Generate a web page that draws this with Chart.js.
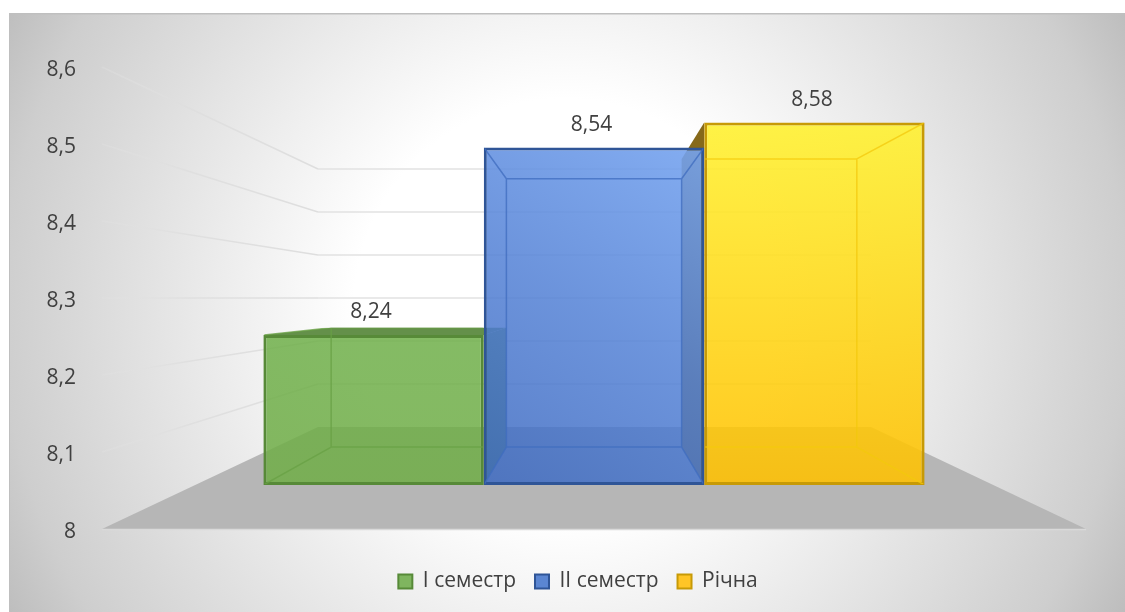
<!DOCTYPE html>
<html><head><meta charset="utf-8">
<style>html,body{margin:0;padding:0;background:#fff}canvas{display:block}</style>
<script src="https://cdn.jsdelivr.net/npm/chart.js@4"></script></head>
<body><div style="width:1125px;height:612px"><canvas id="c" width="1125" height="612"></canvas></div>
<script>
const categories = ['Середній бал'];
const seriesNames = ['I семестр', 'II семестр', 'Річна'];
const semester1 = [8.24];
const semester2 = [8.54];
const yearly = [8.58];
const tickValues = [8, 8.1, 8.2, 8.3, 8.4, 8.5, 8.6];
const borderColors = ['#578a38', '#2f5597', '#c79a06'];
const edgeColors = ['#68a044', '#3f6cbf', '#f3c80c'];
const sideColors = ['#64904a', '#3f5f9a', '#86691a'];
const stops = [
  [[0,'rgba(112,173,71,.86)'],[1,'rgba(112,176,75,.86)']],
  [[0,'rgba(62,106,192,.86)'],[.5,'rgba(84,130,214,.86)'],[1,'rgba(118,164,240,.9)']],
  [[0,'rgba(255,241,50,.9)'],[1,'rgba(255,192,0,.88)']]
];
const TXT = '#404040', FONT = '"Open Sans"';
const fmt = v => String(+(+v).toFixed(2)).replace('.', ',');
const RATIO = 0.795, VPY = 300;

function fill(ctx, pts, color) {
  ctx.beginPath(); pts.forEach((p,i)=> i?ctx.lineTo(p[0],p[1]):ctx.moveTo(p[0],p[1])); ctx.closePath();
  ctx.fillStyle = color; ctx.fill();
}
function box(chart, i) {
  const el = chart.getDatasetMeta(i).data[0];
  const vx = (chart.chartArea.left + chart.chartArea.right) / 2;
  const l = el.x - el.width/2, r = el.x + el.width/2, t = el.y, b = el.base;
  const bx = x => vx + (x - vx) * RATIO, by = y => VPY + (y - VPY) * RATIO;
  return {l, r, t, b, bl: bx(l), br: bx(r), bt: by(t), bb: by(b)};
}
const scene = {
  id: 'scene',
  beforeDraw(chart) {
    const c = chart.ctx, W = chart.width, H = chart.height;
    c.save();
    const g = c.createRadialGradient(565, 310, 0, 565, 310, 640);
    g.addColorStop(0, '#ffffff'); g.addColorStop(.33, '#ffffff'); g.addColorStop(.5, '#f0f0f0');
    g.addColorStop(.88, '#cecece'); g.addColorStop(1, '#bcbcbc');
    c.fillStyle = g; c.fillRect(9, 13, W-9, H-13);
    c.fillStyle = '#bfbfbf'; c.fillRect(9, 13, W-9, 1.5); c.fillRect(9, 13, 1, H-13);
    c.restore();
  },
  afterLayout(chart) {
    const l = chart.legend; l.top += 23; l.bottom += 23; l.left += 35; l.right += 35;
  },
  beforeDatasetsDraw(chart) {
    const c = chart.ctx, a = chart.chartArea, Y = chart.scales.y, B = chart.scales.yBack;
    const L = a.left, R = a.right, bL = 318, bR = 871;
    c.save();
    const yF = Y.getPixelForValue(8), yB = B.getPixelForValue(8);
    fill(c, [[L,yF],[R,yF],[bR,yB],[bL,yB]], '#b6b6b6');
    c.strokeStyle = '#d9d9d9'; c.lineWidth = 1.5;
    c.beginPath(); c.moveTo(L,yF+.5); c.lineTo(R,yF+.5); c.stroke();
    tickValues.slice(1).forEach(v => {
      const y0 = Y.getPixelForValue(v), y1 = B.getPixelForValue(v);
      const g = c.createLinearGradient(L,0,bL,0);
      g.addColorStop(0,'rgba(226,226,226,.3)'); g.addColorStop(.4,'rgba(222,222,222,.85)'); g.addColorStop(1,'#dedede');
      c.strokeStyle = g; c.lineWidth = 1.5;
      c.beginPath(); c.moveTo(L,y0); c.lineTo(bL,y1); c.stroke();
      c.strokeStyle = '#e2e2e2';
      c.beginPath(); c.moveTo(bL,y1); c.lineTo(bR,y1); c.stroke();
    });
    [0,2,1].forEach(i => {
      const k = box(chart,i);
      if (k.bt < k.t) fill(c, [[k.l,k.t],[k.bl,k.bt],[k.br,k.bt],[k.r,k.t]], sideColors[i]);
      if (k.br > k.r) fill(c, [[k.r,k.t],[k.br,k.bt],[k.br,k.bb],[k.r,k.b]], sideColors[i]);
      if (k.bl < k.l) fill(c, [[k.l,k.t],[k.bl,k.bt],[k.bl,k.bb],[k.l,k.b]], sideColors[i]);
    });
    c.restore();
  },
  afterDatasetsDraw(chart) {
    const c = chart.ctx;
    c.save();
    [0,2,1].forEach(i => {
      const k = box(chart,i);
      c.save();
      c.beginPath(); c.rect(k.l+1, Math.min(k.t,k.bt), k.r-k.l-2, k.b-Math.min(k.t,k.bt)-1); c.clip();
      c.strokeStyle = edgeColors[i]; c.globalAlpha = .75; c.lineWidth = 1.5;
      c.beginPath();
      c.rect(k.bl, k.bt, k.br-k.bl, k.bb-k.bt);
      [[k.l,k.t,k.bl,k.bt],[k.r,k.t,k.br,k.bt],[k.l,k.b,k.bl,k.bb],[k.r,k.b,k.br,k.bb]].forEach(s => {
        c.moveTo(s[0],s[1]); c.lineTo(s[2],s[3]);
      });
      c.stroke();
      c.restore();
    });
    c.fillStyle = TXT; c.font = '21px ' + FONT; c.textAlign = 'center'; c.textBaseline = 'middle';
    chart.data.datasets.forEach((d,i) => {
      const el = chart.getDatasetMeta(i).data[0];
      c.fillText(fmt(d.data[0]), el.x - 2.5, el.y - 22.5);
    });
    c.restore();
  }
};
function grad(i) {
  return ctx => {
    const ch = ctx.chart, a = ch.chartArea;
    if (!a) return borderColors[i];
    const g = i === 1
      ? ch.ctx.createLinearGradient(485, 484, 704, 149)
      : ch.ctx.createLinearGradient(0, i === 0 ? 484 : 124, 0, i === 0 ? 335 : 484);
    stops[i].forEach(p => g.addColorStop(p[0], p[1]));
    return g;
  };
}
const ds = (i, data) => ({
  label: seriesNames[i], data, yAxisID: 'yFront', base: 8,
  backgroundColor: grad(i), borderColor: borderColors[i], borderWidth: 3, borderSkipped: false,
  categoryPercentage: .672, barPercentage: 1
});
new Chart(document.getElementById('c'), {
  type: 'bar',
  data: { labels: categories, datasets: [ds(0, semester1), ds(1, semester2), ds(2, yearly)] },
  plugins: [scene],
  options: {
    responsive: false, animation: false, devicePixelRatio: 1,
    layout: { padding: { left: 0, right: 39, top: 67, bottom: 33 } },
    plugins: {
      tooltip: { enabled: false },
      legend: {
        position: 'bottom',
        labels: {
          boxWidth: 14, boxHeight: 14, padding: 19, color: TXT,
          font: { family: FONT, size: 21 },
          generateLabels: ch => ch.data.datasets.map((d,i) => ({
            text: d.label, datasetIndex: i, lineWidth: 2, strokeStyle: borderColors[i],
            fillStyle: ['#7fb55f','#5b86d2','#ffc526'][i], fontColor: TXT
          }))
        }
      }
    },
    scales: {
      x: { display: false },
      y: {
        min: 8, max: 8.6,
        afterBuildTicks: s => { s.ticks = tickValues.map(v => ({ value: v })); },
        afterFit: s => { s.width = 102; },
        grid: { display: false, drawTicks: false }, border: { display: false },
        ticks: { padding: 26, labelOffset: 3, color: TXT, font: { family: FONT, size: 21 }, callback: v => fmt(v) }
      },
      yFront: { display: false, min: 8 - 44/625, max: 8 + 418/625 },
      yBack: { display: false, min: 8 - 102/430, max: 8 + 360/430 }
    }
  }
});
</script></body></html>
